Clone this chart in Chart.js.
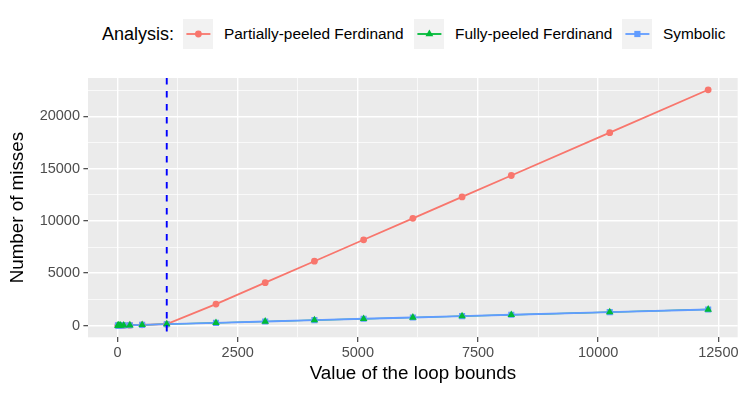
<!DOCTYPE html>
<html lang="en">
<head>
<meta charset="UTF-8" />
<title>Number of misses vs. loop bounds</title>
<script src="https://cdn.jsdelivr.net/npm/chart.js"></script>
<style>
  html, body { margin: 0; padding: 0; background: #fff; }
  body { width: 747px; height: 398px; position: relative; overflow: hidden;
         font-family: "Liberation Sans", Arial, sans-serif; }
  #plot { position: absolute; left: 0; top: 0; }
  .ltitle { position: absolute; left: 102px; top: 34px; transform: translateY(-50%);
            font-size: 18px; color: #000; white-space: nowrap; }
  .key { position: absolute; top: 19px; width: 30px; height: 30px; background: #F2F2F2; }
  .key svg { display: block; }
  .lab { position: absolute; top: 34px; transform: translateY(-50%);
         font-size: 15.4px; color: #000; white-space: nowrap; }
</style>
</head>
<body>
  <div class="ltitle">Analysis:</div>
  <div class="key" style="left:183px">
    <svg width="30" height="30"><line x1="3.4" y1="15" x2="27.4" y2="15" stroke="#F8766D" stroke-width="1.8"/><circle cx="15.4" cy="15" r="3.4" fill="#F8766D"/></svg>
  </div>
  <div class="lab" style="left:224px">Partially-peeled Ferdinand</div>
  <div class="key" style="left:414px">
    <svg width="30" height="30"><line x1="3.4" y1="15" x2="27.4" y2="15" stroke="#00BA38" stroke-width="1.8"/><polygon points="15.4,10.5 19.3,17.3 11.5,17.3" fill="#00BA38"/></svg>
  </div>
  <div class="lab" style="left:455px">Fully-peeled Ferdinand</div>
  <div class="key" style="left:622px">
    <svg width="30" height="30"><line x1="3.4" y1="15" x2="27.4" y2="15" stroke="#619CFF" stroke-width="1.8"/><rect x="12.3" y="11.9" width="6.2" height="6.2" fill="#619CFF"/></svg>
  </div>
  <div class="lab" style="left:663px">Symbolic</div>

  <canvas id="plot" width="747" height="398"></canvas>

<script>
// loop bound values (x) and misses per analysis (y)
const loopBounds      = [8, 16, 32, 64, 128, 256, 512, 1024, 2048, 3072, 4096, 5120, 6144, 7168, 8192, 10240, 12288];
const partiallyPeeled = [1, 2, 4, 8, 16, 32, 64, 128, 2048, 4096, 6144, 8192, 10240, 12288, 14336, 18432, 22528];
const fullyPeeled     = [1, 2, 4, 8, 16, 32, 64, 128, 256, 384, 512, 640, 768, 896, 1024, 1280, 1536];
const symbolic        = [1, 2, 4, 8, 16, 32, 64, 128, 256, 384, 512, 640, 768, 896, 1024, 1280, 1530];

const cacheLimit = 1024;   // dashed vertical marker

const xMajor = [0, 2500, 5000, 7500, 10000, 12500];
const xMinor = [1250, 3750, 6250, 8750, 11250];
const yMajor = [0, 5000, 10000, 15000, 20000];
const yMinor = [2500, 7500, 12500, 17500, 22500];

const FONT = "'Liberation Sans', Arial, sans-serif";

const pts = ys => loopBounds.map((x, i) => ({ x: x, y: ys[i] }));
const isMajor = (list, v) => list.indexOf(v) !== -1;

const panelBg = {
  id: 'panelBg',
  beforeDraw(chart) {
    const a = chart.chartArea, c = chart.ctx;
    c.save();
    c.fillStyle = '#EBEBEB';
    c.fillRect(a.left, a.top, a.right - a.left, a.bottom - a.top);
    c.restore();
  }
};

const vline = {
  id: 'vline',
  afterDatasetsDraw(chart) {
    const a = chart.chartArea, c = chart.ctx;
    const px = chart.scales.x.getPixelForValue(cacheLimit);
    c.save();
    c.strokeStyle = '#0000FF';
    c.lineWidth = 1.9;
    c.setLineDash([6.5, 6.5]);
    c.beginPath();
    c.moveTo(px, a.top);
    c.lineTo(px, a.bottom);
    c.stroke();
    c.restore();
  }
};

function lineSet(data, color, width, order) {
  return { data: data, showLine: true, borderColor: color, borderWidth: width,
           pointRadius: 0, pointHoverRadius: 0, order: order };
}
function pointSet(data, color, style, r, order) {
  return { data: data, showLine: false, pointStyle: style, pointRadius: r,
           pointBackgroundColor: color, pointBorderColor: color, pointBorderWidth: 0,
           order: order };
}

new Chart(document.getElementById('plot'), {
  type: 'scatter',
  data: {
    datasets: [
      lineSet(pts(partiallyPeeled), '#F8766D', 1.8, 12),
      lineSet(pts(fullyPeeled), '#00BA38', 1.2, 11),
      lineSet(pts(symbolic), '#619CFF', 1.9, 10),
      pointSet(pts(partiallyPeeled), '#F8766D', 'circle', 3.4, 3),
      pointSet(pts(symbolic), '#619CFF', 'rect', 4.3, 2),
      pointSet(pts(fullyPeeled), '#00BA38', 'triangle', 4.4, 1)
    ]
  },
  options: {
    responsive: false,
    animation: false,
    events: [],
    layout: { padding: { top: 78, right: 9.3, left: 0, bottom: 0 } },
    plugins: { legend: { display: false }, tooltip: { enabled: false } },
    scales: {
      x: {
        type: 'linear', min: -614.4, max: 12902.4,
        afterBuildTicks: s => { s.ticks = xMajor.concat(xMinor).sort((a, b) => a - b).map(v => ({ value: v })); },
        afterFit: s => { s.height = 60.7; },
        border: { display: false },
        grid: {
          color: '#FFFFFF',
          lineWidth: c => isMajor(xMajor, c.tick.value) ? 1.4 : 0.7,
          tickColor: c => isMajor(xMajor, c.tick.value) ? '#333333' : 'rgba(0,0,0,0)',
          tickLength: 4.6, tickWidth: 1.1
        },
        ticks: {
          autoSkip: false, maxRotation: 0, padding: 2.4, color: '#4D4D4D',
          font: { family: FONT, size: 14.5, lineHeight: 1.2 },
          callback: v => isMajor(xMajor, v) ? String(v) : ''
        },
        title: { display: true, text: 'Value of the loop bounds', color: '#000',
                 font: { family: FONT, size: 18.8, lineHeight: 1 }, padding: { top: 0, bottom: 14.5 } }
      },
      y: {
        type: 'linear', min: -1126.4, max: 23654.4,
        afterBuildTicks: s => { s.ticks = yMajor.concat(yMinor).sort((a, b) => a - b).map(v => ({ value: v })); },
        afterFit: s => { s.width = 88; },
        border: { display: false },
        grid: {
          color: '#FFFFFF',
          lineWidth: c => isMajor(yMajor, c.tick.value) ? 1.4 : 0.7,
          tickColor: c => isMajor(yMajor, c.tick.value) ? '#333333' : 'rgba(0,0,0,0)',
          tickLength: 4.6, tickWidth: 1.1
        },
        ticks: {
          autoSkip: false, padding: 3.4, color: '#4D4D4D',
          font: { family: FONT, size: 14.5, lineHeight: 1.2 },
          callback: v => isMajor(yMajor, v) ? String(v) : ''
        },
        title: { display: true, text: 'Number of misses', color: '#000',
                 font: { family: FONT, size: 18.8, lineHeight: 1 }, padding: { top: 8, bottom: 0 } }
      }
    }
  },
  plugins: [panelBg, vline]
});
</script>
</body>
</html>
